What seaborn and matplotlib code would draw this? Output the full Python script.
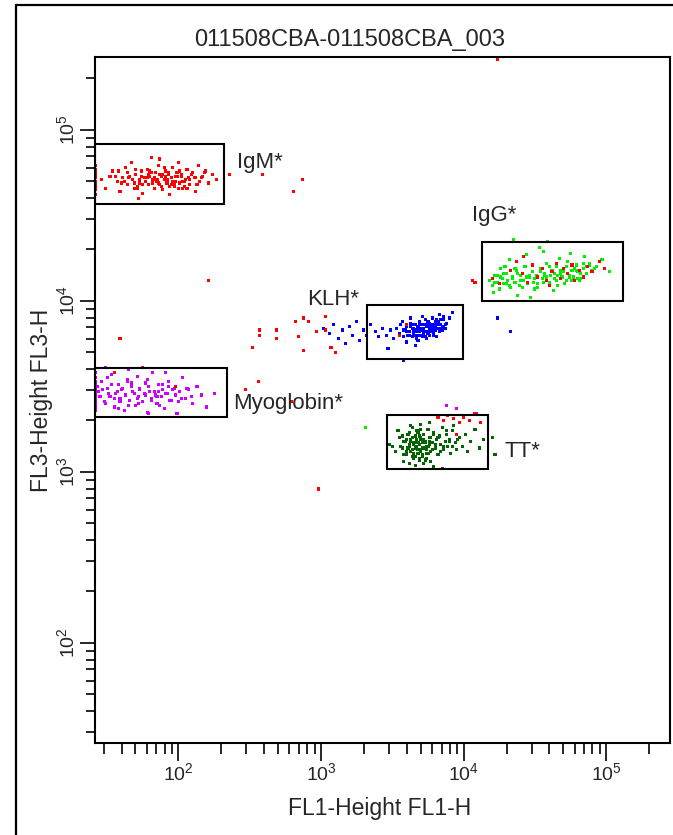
import numpy as np
import pandas as pd
import matplotlib
matplotlib.use("Agg")
import matplotlib.pyplot as plt
import seaborn as sns
from matplotlib.patches import Rectangle
from matplotlib.lines import Line2D

# event positions, log10 units (FL1-H, FL3-H)
igm_x = [1.42, 1.42, 1.42, 1.42, 1.42, 1.42, 1.42, 1.42, 1.42, 1.42,
         1.46, 1.49, 1.52, 1.54, 1.57, 1.59, 1.61, 1.63, 1.64, 1.66,
         1.67, 1.69, 1.70, 1.71, 1.73, 1.74, 1.75, 1.76, 1.77, 1.78,
         1.79, 1.80, 1.81, 1.82, 1.83, 1.84, 1.85, 1.86, 1.87, 1.88,
         1.89, 1.90, 1.91, 1.92, 1.93, 1.94, 1.95, 1.96, 1.97, 1.98,
         1.99, 2.00, 2.01, 2.02, 2.03, 2.05, 2.06, 2.08, 2.09, 2.11,
         2.12, 2.14, 2.15, 2.17, 2.19, 2.21, 2.24, 2.27, 1.72, 1.87,
         1.93, 2.04,
         1.56, 1.60, 1.64, 1.68, 1.71, 1.74, 1.77, 1.80, 1.83, 1.86,
         1.89, 1.92, 1.95, 1.98, 2.01, 2.04, 2.07, 2.10, 2.13, 2.16,
         1.62, 1.66, 1.70, 1.75, 1.79, 1.84, 1.88, 1.91, 1.96, 2.00,
         1.58, 1.65, 1.73, 1.81, 1.85, 1.90, 1.94, 1.99, 2.03, 2.08,
         1.69, 1.78, 1.82, 1.87, 1.92, 1.97, 2.02, 2.06, 2.12, 2.18]
igm_y = [4.70, 4.74, 4.67, 4.77, 4.72, 4.65, 4.79, 4.69, 4.75, 4.62,
         4.71, 4.66, 4.73, 4.76, 4.70, 4.64, 4.72, 4.78, 4.68, 4.73,
         4.81, 4.69, 4.74, 4.66, 4.71, 4.76, 4.63, 4.72, 4.70, 4.77,
         4.68, 4.73, 4.84, 4.71, 4.66, 4.75, 4.70, 4.79, 4.68, 4.73,
         4.65, 4.71, 4.76, 4.69, 4.74, 4.62, 4.72, 4.78, 4.67, 4.70,
         4.75, 4.81, 4.69, 4.73, 4.66, 4.71, 4.77, 4.68, 4.74, 4.72,
         4.64, 4.79, 4.70, 4.73, 4.76, 4.69, 4.74, 4.71, 4.60, 4.83,
         4.75, 4.67,
         4.73, 4.69, 4.75, 4.71, 4.67, 4.73, 4.70, 4.76, 4.72, 4.69,
         4.74, 4.71, 4.68, 4.73, 4.76, 4.70, 4.72, 4.75, 4.68, 4.72,
         4.70, 4.73, 4.77, 4.68, 4.74, 4.71, 4.67, 4.73, 4.70, 4.66,
         4.76, 4.72, 4.69, 4.75, 4.71, 4.78, 4.67, 4.73, 4.70, 4.71,
         4.66, 4.72, 4.69, 4.74, 4.71, 4.69, 4.74, 4.66, 4.72, 4.75]

myo_x = [1.42, 1.42, 1.42, 1.42, 1.42, 1.42, 1.42, 1.42, 1.42, 1.42, 1.42, 1.42,
         1.44, 1.46, 1.48, 1.50, 1.52, 1.53, 1.55, 1.56, 1.58, 1.59,
         1.60, 1.62, 1.63, 1.64, 1.66, 1.67, 1.68, 1.70, 1.71, 1.72,
         1.73, 1.75, 1.76, 1.77, 1.78, 1.80, 1.81, 1.82, 1.84, 1.85,
         1.86, 1.88, 1.89, 1.90, 1.92, 1.93, 1.95, 1.97, 1.99, 2.01,
         2.03, 2.05, 2.07, 2.10, 2.13, 2.16, 2.20, 2.25,
         1.49, 1.65, 1.79, 1.91,
         1.42, 1.42, 1.42, 1.42, 1.42, 1.42, 1.43, 1.45, 1.47, 1.49,
         1.51, 1.53, 1.55, 1.57, 1.59, 1.61, 1.63, 1.65, 1.67, 1.69,
         1.71, 1.73, 1.75, 1.77, 1.79, 1.81, 1.83, 1.85, 1.87, 1.89,
         1.91, 1.94, 1.96, 1.98, 2.02, 2.06, 1.50, 1.58, 1.64, 1.72,
         1.78, 1.86, 1.93, 2.00, 2.09]
myo_y = [3.44, 3.50, 3.39, 3.47, 3.55, 3.42, 3.36, 3.48, 3.52, 3.45, 3.40, 3.58,
         3.47, 3.53, 3.41, 3.49, 3.44, 3.57, 3.38, 3.46, 3.51, 3.43,
         3.48, 3.36, 3.45, 3.54, 3.42, 3.50, 3.47, 3.39, 3.56, 3.44,
         3.49, 3.41, 3.46, 3.52, 3.35, 3.47, 3.43, 3.58, 3.45, 3.40,
         3.51, 3.44, 3.48, 3.37, 3.46, 3.53, 3.42, 3.49, 3.34, 3.47,
         3.55, 3.43, 3.48, 3.40, 3.50, 3.45, 3.38, 3.46,
         3.61, 3.60, 3.34, 3.58,
         3.46, 3.41, 3.53, 3.49, 3.38, 3.43, 3.50, 3.44, 3.48, 3.40,
         3.46, 3.51, 3.43, 3.47, 3.41, 3.49, 3.45, 3.39, 3.52, 3.46,
         3.43, 3.48, 3.41, 3.45, 3.50, 3.42, 3.47, 3.44, 3.39, 3.51,
         3.46, 3.42, 3.48, 3.45, 3.43, 3.49, 3.55, 3.37, 3.53, 3.40,
         3.54, 3.47, 3.50, 3.41, 3.44]

klh_x = [3.46, 3.49, 3.51, 3.53, 3.55, 3.56, 3.58, 3.59, 3.60, 3.61,
         3.62, 3.63, 3.64, 3.65, 3.65, 3.66, 3.67, 3.67, 3.68, 3.69,
         3.69, 3.70, 3.70, 3.71, 3.72, 3.72, 3.73, 3.73, 3.74, 3.75,
         3.75, 3.76, 3.76, 3.77, 3.78, 3.78, 3.79, 3.80, 3.80, 3.81,
         3.82, 3.83, 3.84, 3.85, 3.86, 3.88, 3.90, 3.92, 3.60, 3.68,
         3.74, 3.79, 3.83, 3.71, 3.66, 3.77, 3.63, 3.57, 3.87, 3.81,
         3.02, 3.06, 3.09, 3.12, 3.15, 3.17, 3.20, 3.22, 3.25, 3.27,
         3.30, 3.32, 3.35, 3.38, 3.40, 3.43, 3.47, 3.58, 4.24, 4.33,
         3.60, 3.62, 3.64, 3.66, 3.68, 3.70, 3.72, 3.74, 3.76, 3.78,
         3.80, 3.82, 3.84, 3.86, 3.88, 3.63, 3.67, 3.71, 3.75, 3.79,
         3.83, 3.87, 3.65, 3.69, 3.73, 3.77, 3.81, 3.85, 3.61, 3.70,
         3.74, 3.78, 3.82, 3.66, 3.72, 3.76, 3.80, 3.84, 3.68, 3.75,
         3.58, 3.64, 3.71, 3.79, 3.86]
klh_y = [3.80, 3.83, 3.78, 3.84, 3.81, 3.86, 3.79, 3.83, 3.85, 3.80,
         3.82, 3.87, 3.79, 3.84, 3.81, 3.86, 3.83, 3.78, 3.85, 3.82,
         3.88, 3.80, 3.84, 3.86, 3.81, 3.83, 3.89, 3.79, 3.85, 3.82,
         3.87, 3.84, 3.80, 3.86, 3.83, 3.90, 3.81, 3.85, 3.88, 3.84,
         3.86, 3.82, 3.89, 3.85, 3.91, 3.87, 3.90, 3.93, 3.76, 3.77,
         3.78, 3.80, 3.92, 3.91, 3.74, 3.82, 3.90, 3.88, 3.84, 3.79,
         3.84, 3.81, 3.86, 3.78, 3.83, 3.75, 3.85, 3.80, 3.88, 3.77,
         3.83, 3.80, 3.86, 3.82, 3.79, 3.84, 3.72, 3.65, 3.90, 3.82,
         3.82, 3.80, 3.84, 3.82, 3.80, 3.86, 3.84, 3.82, 3.87, 3.85,
         3.83, 3.88, 3.86, 3.89, 3.87, 3.85, 3.82, 3.83, 3.81, 3.86,
         3.84, 3.86, 3.83, 3.87, 3.86, 3.84, 3.89, 3.83, 3.80, 3.83,
         3.85, 3.82, 3.87, 3.80, 3.81, 3.85, 3.86, 3.84, 3.84, 3.88,
         3.83, 3.86, 3.79, 3.83, 3.85]

igg_x = [4.18, 4.20, 4.22, 4.24, 4.25, 4.27, 4.28, 4.30, 4.31, 4.33,
         4.34, 4.36, 4.37, 4.39, 4.40, 4.42, 4.43, 4.45, 4.46, 4.48,
         4.49, 4.51, 4.52, 4.54, 4.55, 4.57, 4.58, 4.60, 4.61, 4.62,
         4.64, 4.65, 4.66, 4.68, 4.69, 4.70, 4.72, 4.73, 4.74, 4.76,
         4.77, 4.79, 4.80, 4.82, 4.84, 4.86, 4.88, 4.90, 4.93, 4.97,
         4.21, 4.26, 4.32, 4.38, 4.44, 4.50, 4.56, 4.63, 4.67, 4.71,
         4.75, 4.81, 4.35, 4.59, 4.47, 4.53, 4.29, 4.85, 5.02, 4.41,
         3.31,
         4.22, 4.26, 4.30, 4.34, 4.38, 4.42, 4.46, 4.50, 4.54, 4.58,
         4.62, 4.66, 4.70, 4.74, 4.78, 4.82, 4.86, 4.90, 4.24, 4.32,
         4.40, 4.48, 4.56, 4.64, 4.72, 4.80, 4.88, 4.28, 4.36, 4.44,
         4.52, 4.60, 4.68, 4.76, 4.84, 4.92, 4.57, 4.65, 4.73, 4.79]
igg_y = [4.12, 4.09, 4.15, 4.11, 4.07, 4.13, 4.10, 4.16, 4.12, 4.08,
         4.14, 4.11, 4.18, 4.09, 4.15, 4.12, 4.20, 4.10, 4.14, 4.17,
         4.11, 4.15, 4.08, 4.19, 4.13, 4.16, 4.22, 4.11, 4.15, 4.18,
         4.13, 4.20, 4.09, 4.16, 4.14, 4.19, 4.12, 4.23, 4.15, 4.18,
         4.14, 4.21, 4.17, 4.13, 4.19, 4.16, 4.22, 4.18, 4.20, 4.24,
         4.05, 4.19, 4.24, 4.03, 4.27, 4.07, 4.29, 4.06, 4.25, 4.10,
         4.28, 4.12, 4.36, 4.35, 4.02, 4.31, 4.20, 4.26, 4.17, 4.08,
         3.26,
         4.11, 4.14, 4.10, 4.13, 4.16, 4.12, 4.15, 4.13, 4.17, 4.14,
         4.18, 4.15, 4.17, 4.14, 4.19, 4.16, 4.20, 4.17, 4.15, 4.09,
         4.12, 4.17, 4.11, 4.16, 4.20, 4.13, 4.21, 4.16, 4.19, 4.14,
         4.10, 4.20, 4.18, 4.12, 4.22, 4.19, 4.15, 4.12, 4.16, 4.18]

tt_x = [3.48, 3.52, 3.55, 3.57, 3.59, 3.60, 3.61, 3.62, 3.63, 3.64,
        3.65, 3.65, 3.66, 3.67, 3.67, 3.68, 3.68, 3.69, 3.70, 3.70,
        3.71, 3.71, 3.72, 3.73, 3.73, 3.74, 3.75, 3.75, 3.76, 3.77,
        3.78, 3.79, 3.80, 3.81, 3.82, 3.83, 3.84, 3.85, 3.86, 3.87,
        3.88, 3.89, 3.90, 3.91, 3.92, 3.94, 3.95, 3.97, 3.99, 4.01,
        4.03, 4.05, 4.08, 4.11, 4.14, 3.58, 3.62, 3.66, 3.69, 3.72,
        3.74, 3.77, 3.63, 3.70, 3.76, 3.68, 3.64, 3.71, 3.79, 3.93,
        3.50, 3.54, 4.20, 4.22, 3.85,
        3.56, 3.58, 3.60, 3.62, 3.64, 3.66, 3.68, 3.70, 3.72, 3.74,
        3.76, 3.78, 3.80, 3.57, 3.59, 3.61, 3.63, 3.65, 3.67, 3.69,
        3.71, 3.73, 3.75, 3.77, 3.60, 3.64, 3.68, 3.72, 3.76, 3.62,
        3.66, 3.70, 3.74, 3.63, 3.67, 3.71, 3.65, 3.69, 3.82, 3.86,
        3.90, 3.84, 3.88, 3.92, 3.96, 3.58, 3.73, 3.79, 3.66, 3.70]
tt_y = [3.16, 3.12, 3.20, 3.14, 3.18, 3.10, 3.22, 3.15, 3.19, 3.13,
        3.17, 3.08, 3.21, 3.14, 3.19, 3.11, 3.24, 3.16, 3.13, 3.20,
        3.09, 3.17, 3.22, 3.14, 3.18, 3.11, 3.25, 3.15, 3.20, 3.12,
        3.17, 3.23, 3.14, 3.19, 3.10, 3.21, 3.16, 3.26, 3.13, 3.18,
        3.22, 3.15, 3.19, 3.11, 3.24, 3.17, 3.13, 3.20, 3.15, 3.22,
        3.12, 3.18, 3.25, 3.14, 3.19, 3.06, 3.05, 3.04, 3.07, 3.05,
        3.08, 3.06, 3.27, 3.28, 3.29, 3.23, 3.26, 3.09, 3.03, 3.27,
        3.15, 3.24, 3.20, 3.10, 3.02,
        3.15, 3.18, 3.12, 3.16, 3.20, 3.14, 3.17, 3.12, 3.19, 3.15,
        3.18, 3.13, 3.16, 3.21, 3.10, 3.14, 3.18, 3.11, 3.15, 3.21,
        3.14, 3.17, 3.11, 3.20, 3.19, 3.09, 3.13, 3.22, 3.16, 3.23,
        3.17, 3.19, 3.13, 3.12, 3.24, 3.10, 3.16, 3.08, 3.20, 3.15,
        3.18, 3.12, 3.24, 3.15, 3.19, 3.10, 3.07, 3.22, 3.09, 3.25]

other_x = [3.88, 3.95, 4.09]
other_y = [3.39, 3.37, 3.34]

red_x = [4.24, 2.36, 2.59, 2.87, 2.81, 2.21, 1.59, 2.57, 2.57, 2.69,
         2.69, 2.52, 2.82, 2.88, 2.91, 2.84, 2.88, 2.97, 2.56, 2.47,
         2.79, 2.98, 3.03, 3.03, 3.10, 3.07, 4.06, 4.08, 3.60, 3.55,
         1.55, 1.75, 1.98,
         4.20, 4.25, 4.33, 4.37, 4.41, 4.45, 4.48, 4.52, 4.55, 4.58,
         4.62, 4.65, 4.68, 4.70, 4.73, 4.76, 4.78, 4.81, 4.84, 4.87,
         4.90, 4.95, 4.99, 4.42, 4.60,
         3.82, 3.86, 3.89, 3.93, 3.97, 4.00, 4.04, 4.08, 4.12, 3.95]
red_y = [5.41, 4.74, 4.74, 4.71, 4.64, 4.12, 3.78, 3.83, 3.80, 3.83,
         3.78, 3.73, 3.88, 3.90, 3.88, 3.79, 3.71, 3.82, 3.53, 3.48,
         3.41, 2.90, 3.83, 3.91, 3.70, 3.73, 4.12, 4.11, 3.86, 3.80,
         3.58, 3.61, 3.50,
         4.13, 4.10, 4.18, 4.23, 4.16, 4.11, 4.21, 4.14, 4.19, 4.12,
         4.17, 4.22, 4.13, 4.19, 4.16, 4.21, 4.12, 4.18, 4.14, 4.20,
         4.17, 4.23, 4.19, 4.26, 4.09,
         3.32, 3.30, 3.33, 3.31, 3.29, 3.32, 3.30, 3.34, 3.29, 3.22]

# gates
gate_names = ["IgM*", "Myoglobin*", "KLH*", "IgG*", "TT*"]
gate_x0 = [26, 26, 2110, 13500, 2920]
gate_x1 = [210, 220, 9960, 131500, 14900]
gate_y0 = [36900, 2100, 4580, 10000, 1040]
gate_y1 = [82800, 4060, 9480, 22100, 2150]

decade_ticks = [1e2, 1e3, 1e4, 1e5]
decade_labels = [r"$10^{2}$", r"$10^{3}$", r"$10^{4}$", r"$10^{5}$"]

pops = [("Myoglobin", myo_x, myo_y), ("KLH", klh_x, klh_y), ("TT", tt_x, tt_y),
        ("IgG", igg_x, igg_y), ("other", other_x, other_y),
        ("IgM", igm_x, igm_y), ("red", red_x, red_y)]
df = pd.concat([pd.DataFrame({"fl1": 10 ** np.array(xs), "fl3": 10 ** np.array(ys), "pop": name})
                for name, xs, ys in pops], ignore_index=True)

colors = {"Myoglobin": "#cc00ff", "KLH": "#0000ff", "TT": "#006400", "IgG": "#00ee00",
          "other": "#cc00ff", "IgM": "#ff0000", "red": "#ff0000"}

sns.set_style("ticks")
plt.rcParams["font.family"] = ["Liberation Sans", "DejaVu Sans"]
plt.rcParams["mathtext.fontset"] = "custom"
plt.rcParams["mathtext.rm"] = "Liberation Sans"
plt.rcParams["mathtext.it"] = "Liberation Sans:italic"

fig = plt.figure(figsize=(6.73, 8.35), dpi=100)
ax = fig.add_axes([95 / 673, 92 / 835, 575 / 673, 686 / 835])

sns.scatterplot(data=df, x="fl1", y="fl3", hue="pop", palette=colors, marker="s",
                s=5, linewidth=0, legend=False, ax=ax)

ax.set_xscale("log")
ax.set_yscale("log")
ax.set_xlim(26, 2.8e5)
ax.set_ylim(26, 2.67e5)

for x0, x1, y0, y1 in zip(gate_x0, gate_x1, gate_y0, gate_y1):
    ax.add_patch(Rectangle((x0, y0), x1 - x0, y1 - y0, fill=False, ec="black", lw=1.5, zorder=3))

# gate labels (log10 positions)
label_pos = {"IgM*": (2.41, 4.81), "Myoglobin*": (2.385, 3.40), "KLH*": (2.90, 4.01),
             "IgG*": (4.06, 4.50), "TT*": (4.29, 3.12)}
for name in gate_names:
    lx, ly = label_pos[name]
    ax.text(10 ** lx, 10 ** ly, name, fontsize=16, ha="left", va="center")

ax.set_xticks(decade_ticks)
ax.set_xticklabels(decade_labels)
ax.set_yticks(decade_ticks)
ax.set_yticklabels(decade_labels, rotation=90, va="center")
minor = [m * 10 ** e for e in range(1, 6) for m in range(2, 10)]
ax.set_xticks([v for v in minor if 26 < v < 2.8e5], minor=True)
ax.set_yticks([v for v in minor if 26 < v < 2.67e5], minor=True)
ax.set_xticklabels([], minor=True)
ax.set_yticklabels([], minor=True)

ax.tick_params(axis="x", which="major", length=13, width=1.4, pad=1, labelsize=14, direction="out")
ax.tick_params(axis="x", which="minor", length=8, width=1.4, direction="out")
ax.tick_params(axis="y", which="major", length=11, width=1.4, pad=1, labelsize=14, direction="out")
ax.tick_params(axis="y", which="minor", length=6.5, width=1.4, direction="out")
for sp in ax.spines.values():
    sp.set_visible(True)
    sp.set_linewidth(1.5)
    sp.set_color("black")
ax.set_xlabel("")
ax.set_ylabel("")

fig.text(350 / 673, 1 - 40 / 835, "011508CBA-011508CBA_003", fontsize=17, ha="center", va="center")
fig.text(380 / 673, 1 - 808 / 835, "FL1-Height FL1-H", fontsize=16.5, ha="center", va="center")
fig.text(42 / 673, 1 - 400 / 835, "FL3-Height FL3-H", fontsize=16.5, rotation=90, ha="center", va="center")

# outer frame
fig.add_artist(Line2D([16 / 673, 1], [1 - 5 / 835, 1 - 5 / 835], color="black", lw=1.6))
fig.add_artist(Line2D([16 / 673, 16 / 673], [0, 1 - 5 / 835], color="black", lw=1.6))

fig.savefig("out.png", dpi=100)
